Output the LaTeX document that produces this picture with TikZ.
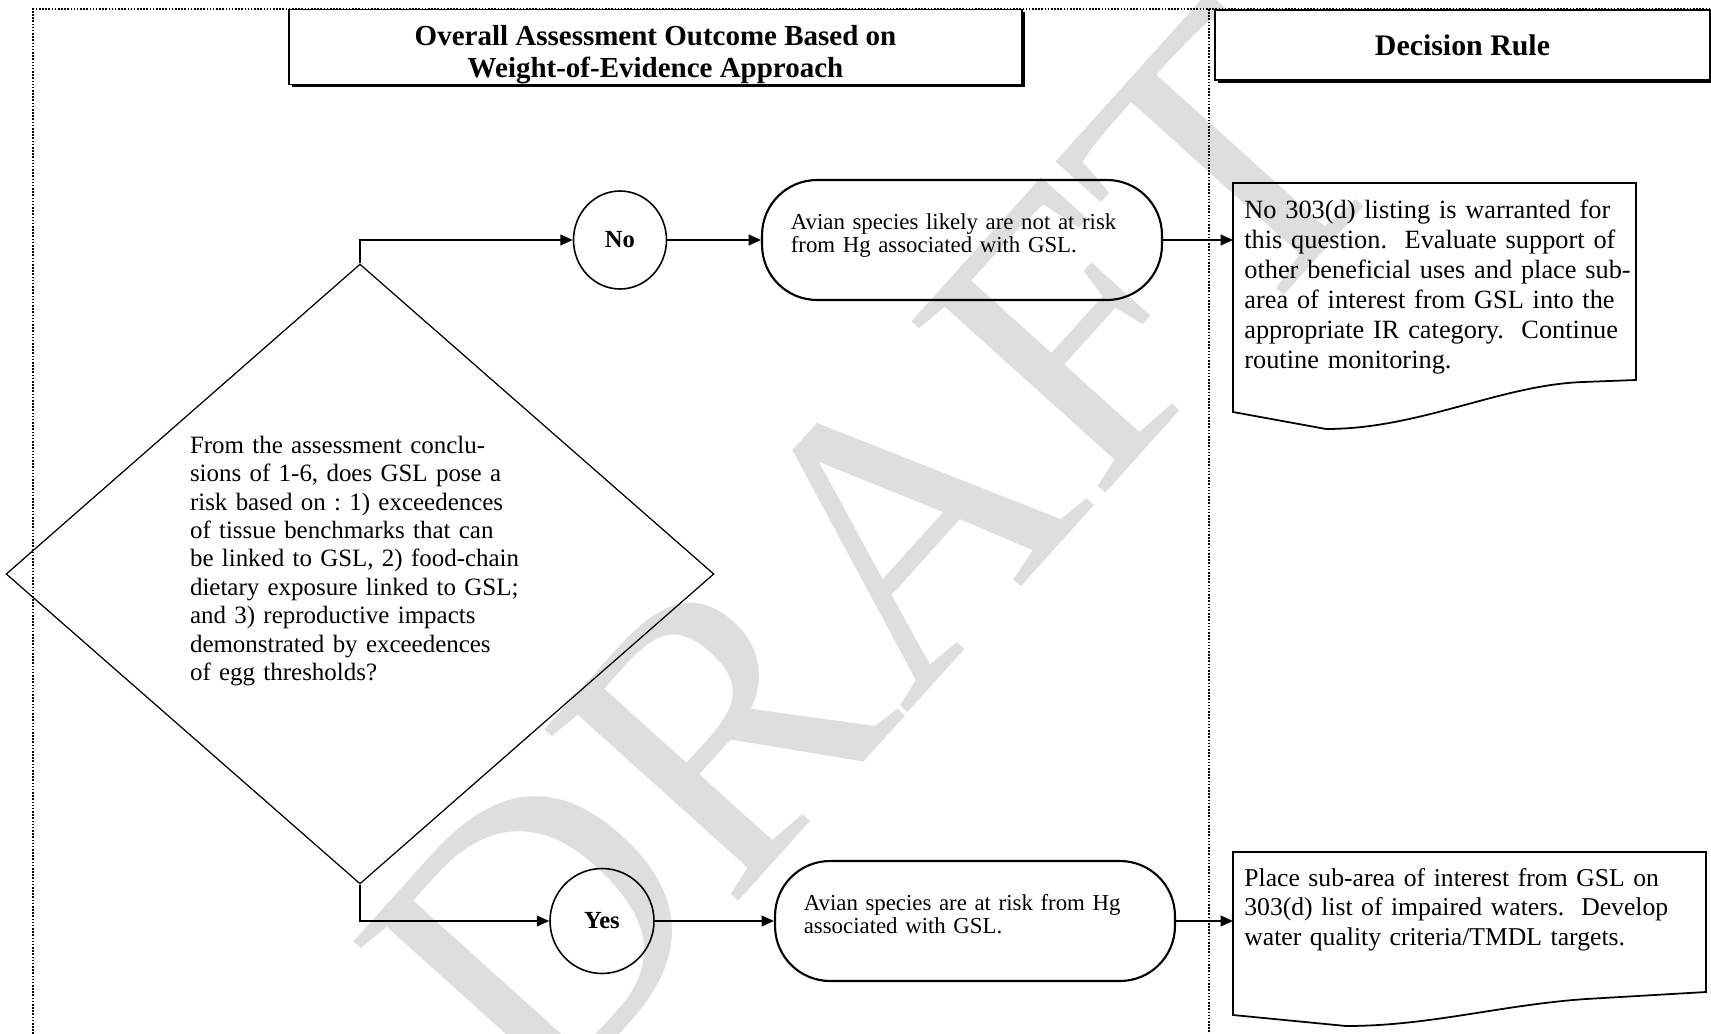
\documentclass[tikz,border=0pt]{standalone}
\usepackage{fontspec}
\setmainfont{Liberation Serif}
\usetikzlibrary{arrows.meta,shapes.geometric,shadows}
\frenchspacing

\tikzset{
  frameline/.style={line width=1.1pt, dash pattern=on 0.9pt off 0.9pt},
  header/.style={draw, line width=0.9pt, fill=white, align=center,
    drop shadow={shadow xshift=1.6pt, shadow yshift=-1.6pt, fill=black, opacity=1},
    font=\fontsize{16.5}{18}\selectfont\bfseries},
  decision/.style={draw, diamond, line width=0.7pt, inner sep=0pt,
    minimum width=14.16cm, minimum height=12.4cm, text width=6.8cm, align=left,
    text depth=147.5pt, font=\fontsize{14.2}{16.2}\selectfont},
  answer/.style={draw, ellipse, line width=0.9pt, inner sep=0pt,
    font=\fontsize{14}{16}\selectfont\bfseries},
  outcome/.style={draw, rounded corners=1.1cm, line width=1.2pt,
    minimum width=8cm, minimum height=2.4cm, text width=6.85cm, align=left,
    text depth=21pt, font=\fontsize{13}{13}\selectfont},
  ruletext/.style={anchor=north west, inner xsep=0.22cm, inner ysep=0pt,
    align=left},
  docline/.style={line width=1pt},
  flow/.style={-{Triangle[length=7pt,width=6pt]}, line width=1.2pt},
  watermark/.style={text=black!13, rotate=48, inner sep=0pt,
    font=\fontsize{225}{225}\selectfont}
}

\begin{document}
\begin{tikzpicture}[x=0.02cm, y=-0.02cm]
    \useasboundingbox (0,0) rectangle (1711,1034);

    % watermark behind everything
    \node[watermark] (draftmark) at (875,555) {DRAFT};

    % frame and column divider
    \draw[frameline] (33,1034) -- (33,9) -- (1711,9);
    \draw[frameline] (1209,9) -- (1209,1034);

    % column headings
    \node[header, text height=38pt, inner ysep=0pt, minimum width=14.66cm, minimum height=1.5cm] (outcomehead) at (655.5,47)
	{Overall Assessment Outcome Based on\\ Weight-of-Evidence Approach};
    \node[header, minimum width=9.9cm, minimum height=1.4cm] (rulehead) at (1462.5,45)
	{\fontsize{17}{18}\selectfont Decision Rule};

    % question
    \node[decision] (ask) at (360,574)
	{From the assessment conclu-\\ sions of 1-6, does GSL pose a\\
	 risk based on : 1) exceedences\\ of tissue benchmarks that can\\
	 be linked to GSL, 2) food-chain\\ dietary exposure linked to GSL;\\
	 and 3) reproductive impacts\\ demonstrated by exceedences\\
	 of egg thresholds?};

    % answers
    \node[answer, minimum width=1.86cm, minimum height=1.96cm] (no) at (620,240) {No};
    \node[answer, minimum width=2.08cm, minimum height=2.1cm] (yes) at (602,921) {Yes};

    % outcomes
    \node[outcome] (box1) at (962,240)
	{Avian species likely are not at risk\\ from Hg associated with GSL.};
    \node[outcome] (box2) at (975,921)
	{Avian species are at risk from Hg\\ associated with GSL.};

    % decision rules
    \node[ruletext, text width=8.3cm, font=\fontsize{15}{17}\selectfont] (doc1) at (1233,200)
	{No 303(d) listing is warranted for\\ this question.~ Evaluate support of\\
	 other beneficial uses and place sub-\\ area of interest from GSL into the\\
	 appropriate IR category.~ Continue\\ routine monitoring.};
    \draw[docline] (1233,183) -- (1636,183) -- (1636,380) -- (1583,382)
	.. controls (1500,385) and (1420,429) .. (1326,429) -- (1233,412) -- cycle;

    \node[ruletext, text width=9cm, font=\fontsize{14.6}{16.8}\selectfont] (doc2) at (1233,868)
	{Place sub-area of interest from GSL on\\ 303(d) list of impaired waters.~ Develop\\
	 water quality criteria/TMDL targets.};
    \draw[docline] (1233,852) -- (1706,852) -- (1706,992) -- (1586,999)
	.. controls (1500,1005) and (1430,1026) .. (1346,1026) -- (1233,1015) -- cycle;

    % connectors
    \draw[flow] (ask.north) |- (no);
    \draw[flow] (no) -- (box1);
    \draw[flow] (box1.east) -- (box1.east -| doc1.west);
    \draw[flow] (ask.south) |- (yes);
    \draw[flow] (yes) -- (box2);
    \draw[flow] (box2.east) -- (box2.east -| doc2.west);
\end{tikzpicture}
\end{document}
